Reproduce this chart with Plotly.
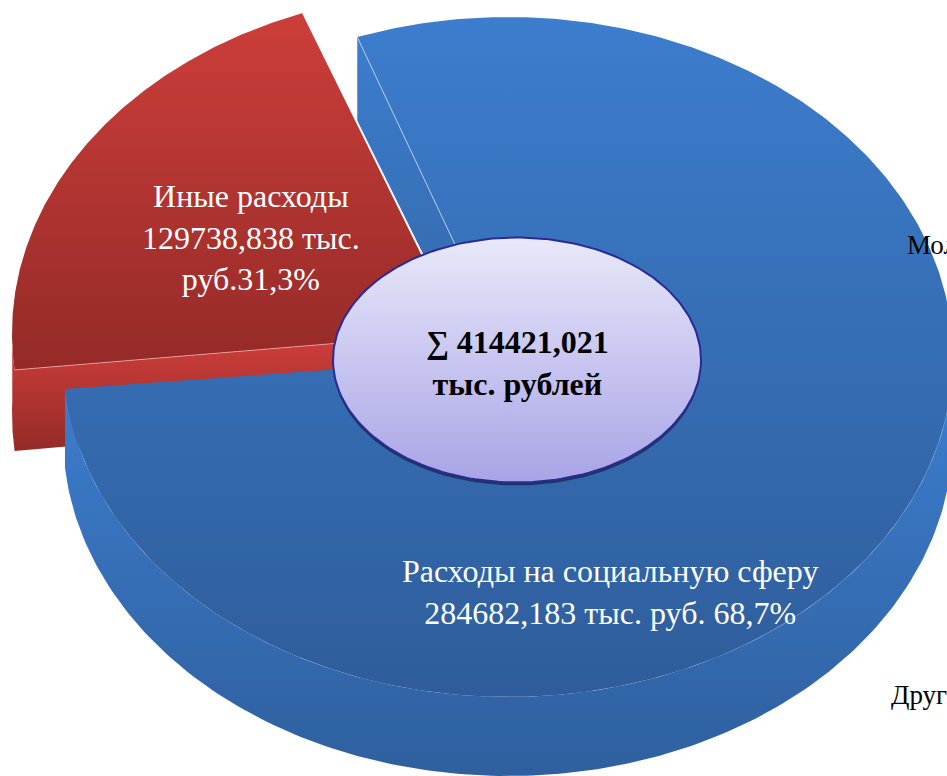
import numpy as np
import plotly.graph_objects as go

# Data as printed on the chart
categories = ["Расходы на социальную сферу", "Иные расходы"]
values_thousand_rub = ["284682,183", "129738,838"]
label_percent = ["68,7%", "31,3%"]
total_label = "414421,021"
# Sweep of each slice as it appears in the picture (percent of the ellipse)
drawn_share_pct = [79.0, 21.0]
cut_off_labels = ["Мол", "Друг"]

# Geometry (pixel-like axis units)
W, H = 947, 776
BLUE_START, RED_TOP = 109.8, 110.6
A, B, DEPTH = 445, 340, 79
RED_A, RED_B = 449, 342
BLUE_C = (508, 357)
RED_C = (461, 333)
HOLE = (517, 360, 184, 122.5)


def ell(c, t, a=A, b=B, dy=0):
    t = np.radians(t)
    return c[0] + a * np.cos(t), c[1] + dy - b * np.sin(t)


def arc(c, t0, t1, a=A, b=B, dy=0, n=200):
    return ell(c, np.linspace(t0, t1, n), a, b, dy)


def poly(fig, x, y, cols, y0, y1):
    fig.add_trace(go.Scatter(
        x=list(x), y=list(y), mode="lines", line=dict(width=0), fill="toself",
        fillgradient=dict(type="vertical", colorscale=[[0, cols[0]], [1, cols[1]]],
                          start=y0, stop=y1),
        hoverinfo="skip", showlegend=False))


def line(fig, x, y, color, width=1):
    fig.add_trace(go.Scatter(x=list(x), y=list(y), mode="lines",
                             line=dict(color=color, width=width),
                             hoverinfo="skip", showlegend=False))


blue_end = BLUE_START - drawn_share_pct[0] * 3.6     # clockwise from the start angle
red_end = RED_TOP
red_start = red_end + drawn_share_pct[1] * 3.6

fig = go.Figure()
TOP, BOT = "rgb(60,125,205)", "rgb(47,93,155)"

# blue radial wall (behind the red slice)
ax, ay = ell(BLUE_C, BLUE_START)
poly(fig, [ax, ax, BLUE_C[0], BLUE_C[0]],
     [ay, ay + DEPTH + 10, BLUE_C[1] + DEPTH, BLUE_C[1]],
     ("rgb(60,125,205)", "rgb(54,110,180)"), 38, 260)

# red side wall
ox, oy = ell(RED_C, red_start, RED_A, RED_B)
rax, ray = arc(RED_C, 178, red_start, RED_A, RED_B, n=30)
rbx, rby = arc(RED_C, red_start, 178, RED_A, RED_B, dy=DEPTH + 2, n=30)
wx = np.r_[rax, RED_C[0], RED_C[0], rbx]
wy = np.r_[ray, RED_C[1], RED_C[1] + DEPTH, rby]
poly(fig, wx, wy, ("rgb(205,62,58)", "rgb(150,42,40)"), 340, 450)

# red top
rx, ry = arc(RED_C, red_end, red_start, RED_A, RED_B)
poly(fig, np.r_[RED_C[0], rx, RED_C[0]], np.r_[RED_C[1], ry, RED_C[1]],
     ("rgb(205,62,58)", "rgb(148,42,40)"), 13, 370)
line(fig, [ox, RED_C[0]], [oy, RED_C[1]], "rgba(235,170,165,0.8)", 1)
ex, ey = ell(RED_C, red_end, RED_A, RED_B)
line(fig, [ex, RED_C[0]], [ey, RED_C[1]], "white", 2)

# blue outer wall
tx, ty = arc(BLUE_C, blue_end, 0)
bx, by = arc(BLUE_C, 0, blue_end, dy=DEPTH)
poly(fig, np.r_[tx, bx], np.r_[ty, by],
     ("rgb(60,125,205)", "rgb(47,95,158)"), 390, 776)

# blue top
tx, ty = arc(BLUE_C, BLUE_START, blue_end, n=400)
poly(fig, np.r_[BLUE_C[0], tx, BLUE_C[0]], np.r_[BLUE_C[1], ty, BLUE_C[1]], (TOP, BOT), 17, 697)
line(fig, [ax, BLUE_C[0]], [ay, BLUE_C[1]], "rgba(200,220,245,0.8)", 1)
ox2, oy2 = arc(BLUE_C, 300, 360)
line(fig, ox2, oy2, "rgba(120,165,220,0.45)", 1)

# centre ellipse
sx, sy = arc(HOLE[:2], 0, 360, HOLE[2], HOLE[3], dy=3)
poly(fig, sx, sy, ("rgb(30,55,95)", "rgb(30,55,95)"), 237, 487)
cx, cy = arc(HOLE[:2], 0, 360, HOLE[2], HOLE[3])
poly(fig, cx, cy, ("rgb(233,233,250)", "rgb(168,164,230)"), 237, 483)
line(fig, cx, cy, "rgb(42,42,150)", 2)

serif = "Liberation Serif"
white = dict(family=serif, size=32, color="white")
notes = [
    (251, 237, f"{categories[1]}<br>{values_thousand_rub[1]} тыс.<br>руб.{label_percent[1]}", white, "center"),
    (610, 592, f"{categories[0]}<br>{values_thousand_rub[0]} тыс. руб. {label_percent[0]}", white, "center"),
    (517, 363, f"<b>∑ {total_label}<br>тыс. рублей</b>",
     dict(family=serif, size=32, color="black"), "center"),
    (905, 245, cut_off_labels[0], dict(family=serif, size=27, color="black"), "left"),
    (889, 695, cut_off_labels[1], dict(family=serif, size=27, color="black"), "left"),
]
for x, y, t, f, anchor in notes:
    fig.add_annotation(x=x, y=y, text=t, font=f, showarrow=False,
                       xanchor=anchor, yanchor="middle", align="center")

axis = dict(visible=False, fixedrange=True)
fig.update_layout(
    width=W, height=H, margin=dict(l=0, r=0, t=0, b=0),
    paper_bgcolor="white", plot_bgcolor="white", showlegend=False,
    xaxis=dict(range=[0, W], **axis), yaxis=dict(range=[H, 0], **axis),
)
fig.write_html("out.html", config=dict(displayModeBar=False),
               post_script="document.body.style.margin='0';document.body.style.overflow='hidden';")
